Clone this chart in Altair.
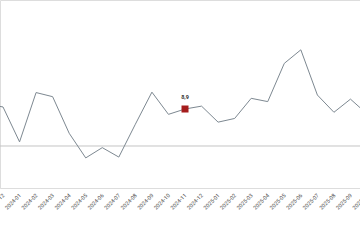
import altair as alt
import pandas as pd

months = ["2023-11", "2023-12",
          "2024-01", "2024-02", "2024-03", "2024-04", "2024-05", "2024-06",
          "2024-07", "2024-08", "2024-09", "2024-10", "2024-11", "2024-12",
          "2025-01", "2025-02", "2025-03", "2025-04", "2025-05", "2025-06",
          "2025-07", "2025-08", "2025-09", "2025-10"]
values = [9.02, 8.95,
          8.10, 9.30, 9.20, 8.31, 7.71, 7.96,
          7.73, 8.53, 9.31, 8.77, 8.90, 8.97,
          8.58, 8.67, 9.16, 9.08, 10.01, 10.34,
          9.24, 8.82, 9.14, 8.78]
highlight_month = "2024-11"
highlight_label = "8,9"
reference_value = 8.0

idx = list(range(-1, len(months) - 1))
df = pd.DataFrame({"i": idx, "month": months, "v": values})
hl = df[df["month"] == highlight_month].assign(label=highlight_label)
ref = pd.DataFrame({"r": [reference_value]})

label_arr = "[" + ",".join("'" + m + "'" for m in months) + "]"

xscale = alt.Scale(domain=[-0.1813, 22.24], range=[0, 371], nice=False, zero=False)
yscale = alt.Scale(domain=[6.978, 11.552], nice=False, zero=False)

xaxis = alt.Axis(
    values=idx,
    labelExpr=label_arr + "[datum.value + 1]",
    labelAngle=-45, labelAlign="right", labelBaseline="middle",
    labelFontSize=5.5, labelColor="#555555", labelFont="Roboto",
    labelPadding=6, labelFlush=False, labelOverlap=False, labelBound=False,
    labelSeparation=0,
    ticks=False, grid=False, title=None,
    domainColor="#dddddd", domainWidth=1,
)

X = alt.X("i:Q", scale=xscale, axis=xaxis)
Y = alt.Y("v:Q", scale=yscale, axis=None)

rule = alt.Chart(ref).mark_rule(color="#c4c4c4", strokeWidth=1).encode(
    y=alt.Y("r:Q", scale=yscale, axis=None)
)

line = alt.Chart(df).mark_line(color="#7d8891", strokeWidth=1, clip=True).encode(
    x=X, y=Y
)

point = alt.Chart(hl).mark_point(
    shape="square", filled=True, size=49, color="#a51c1c", opacity=1
).encode(x=X, y=Y)

text = alt.Chart(hl).mark_text(
    dy=-12, fontSize=5.5, fontWeight="bold", color="#333333", font="Roboto"
).encode(x=X, y=Y, text="label:N")

chart = alt.layer(rule, line, point, text).properties(
    width=360, height=188,
    autosize=alt.AutoSizeParams(type="none"),
    padding={"left": 0, "top": 0, "right": 0, "bottom": 62},
).configure_view(stroke=None).configure(background="white").configure_axis(
    labelOverlap=False, labelSeparation=0
)

chart.save("out.html", embed_options={"renderer": "svg", "actions": False})
